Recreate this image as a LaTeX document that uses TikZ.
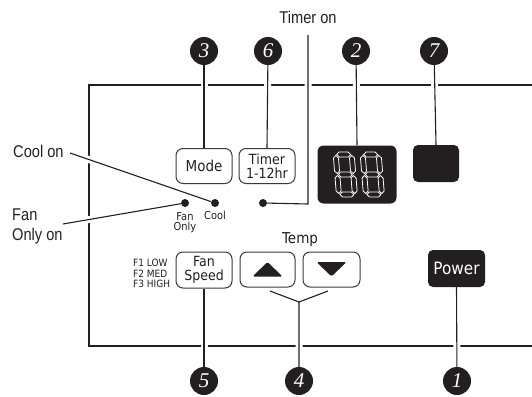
\documentclass[tikz,border=0pt]{standalone}
\usepackage{fontspec}
\newfontfamily\panelfont{DejaVu Sans}[FakeStretch=0.9]
\newfontfamily\calloutfont{Liberation Sans}[FakeStretch=0.86]
\newfontfamily\numfont{Liberation Serif}
\definecolor{Inkcol}{HTML}{231F20}
\definecolor{Btncol}{HTML}{3A3A3A}
\usetikzlibrary{calc, positioning}
\pgfdeclarelayer{back}
\pgfsetlayers{back,main}
\tikzset{
    btn/.style={draw=Btncol, line width=1pt, rounded corners=7pt, text=Inkcol,
        font=\panelfont\fontsize{14}{13.5}\selectfont, align=center, inner sep=0pt,
        minimum width=56pt, minimum height=35pt},
    blackbox/.style={fill=Inkcol, rounded corners=5pt, inner sep=0pt},
    numdot/.style={circle, fill=Inkcol, minimum size=28pt, inner sep=0pt, text=white,
        font=\numfont\itshape\fontsize{21}{21}\selectfont},
    led/.style={circle, fill=Inkcol, minimum size=8pt, inner sep=0pt},
    ledlabel/.style={text=Inkcol, font=\panelfont\fontsize{11}{10.5}\selectfont, align=center, inner sep=0pt},
    callout/.style={text=Inkcol, font=\calloutfont\fontsize{17}{20}\selectfont, inner sep=0pt, align=left},
    leader/.style={draw=Inkcol, line width=1.1pt, preaction={draw=white, line width=7pt}},
    segline/.style={draw=white, line width=0.8pt, fill=Inkcol, line join=miter}
}
% hollow seven segment digit, #1 = top left corner
\newcommand{\segdigit}[1]{%
    \begin{scope}[shift={#1}, xslant=-0.08]
        \foreach \yc in {2.5,22.5,42.5}
            \draw[segline] (3.5,\yc) -- (6,\yc-2.5) -- (15,\yc-2.5) -- (17.5,\yc) -- (15,\yc+2.5) -- (6,\yc+2.5) -- cycle;
        \foreach \xc/\ya/\yb in {2.5/3.5/21.5, 18.5/3.5/21.5, 2.5/23.5/41.5, 18.5/23.5/41.5}
            \draw[segline] (\xc,\ya) -- (\xc+2.5,\ya+2.5) -- (\xc+2.5,\yb-2.5) -- (\xc,\yb) -- (\xc-2.5,\yb-2.5) -- (\xc-2.5,\ya+2.5) -- cycle;
    \end{scope}}

\begin{document}
\begin{tikzpicture}[x=1pt, y=-1pt]
    \useasboundingbox (0,0) rectangle (532,396);

    % Buttons
    \node[btn, font=\panelfont\fontsize{15}{15}\selectfont] (mode) at (204,166) {Mode};
    \node[btn] (timer) at (267,166) {Timer\\1-12hr};
    \node[btn, minimum height=36pt] (fanspeed) at (204,270) {Fan\\Speed};
    \node[btn, minimum width=55pt] (tempup) at (267.5,269.5) {};
    \node[btn, minimum width=57pt] (tempdown) at (331.5,269.5) {};
    \fill[Inkcol, rounded corners=1.5pt] ([shift={(-15,7)}]tempup.center) -- ([shift={(15,7)}]tempup.center) -- ([shift={(0,-7.5)}]tempup.center) -- cycle;
    \fill[Inkcol, rounded corners=1.5pt] ([shift={(-15,-7.5)}]tempdown.center) -- ([shift={(15,-7.5)}]tempdown.center) -- ([shift={(0,7)}]tempdown.center) -- cycle;
    \node[text=Inkcol, font=\panelfont\fontsize{15}{15}\selectfont, inner sep=0pt, anchor=base] (templabel) at (300,243) {Temp};
    \node[blackbox, minimum width=57pt, minimum height=37pt, text=white,
        font=\panelfont\fontsize{17}{17}\selectfont] (power) at (456.5,268.5) {Power};
    \node[ledlabel, font=\panelfont\fontsize{10}{10.5}\selectfont, align=left, anchor=west] (fansteps) at (133,273.5) {F1 LOW\\F2 MED\\F3 HIGH};

    % Display and box
    \node[blackbox, rounded corners=6pt, minimum width=79pt, minimum height=58pt] (display) at (357,174.5) {};
    \segdigit{($(display.center)+(-24,-22.5)$)}
    \segdigit{($(display.center)+(3,-22.5)$)}
    \node[blackbox, minimum width=46pt, minimum height=37pt] (box7) at (436,163.5) {};

    % Indicator lights
    \node[led] (fanled) at (185,203) {};
    \node[led] (coolled) at (215,203) {};
    \node[led] (timerled) at (263,203) {};
    \node[ledlabel, below=5pt of fanled] (fanledtext) {Fan\\Only};
    \node[ledlabel, below=4pt of coolled] (coolledtext) {Cool};

    % Callouts
    \node[callout, anchor=base] (timeron) at (308,23.5) {Timer on};
    \node[callout, anchor=base west] (coolon) at (13,157) {Cool on};
    \node[callout, anchor=north west] (fanonly) at (12,209) {Fan\\Only on};

    % Numbers
    \node[numdot] (n3) at (204,51) {3};
    \node[numdot] (n6) at (268,51) {6};
    \node[numdot] (n2) at (356,51) {2};
    \node[numdot] (n7) at (434,51) {7};
    \node[numdot] (n5) at (204,381) {5};
    \node[numdot] (n4) at (299,381) {4};
    \node[numdot] (n1) at (457,381) {1};

    % Coordinates
    \coordinate (timertop) at (308,35);
    \coordinate (timerbend) at (308,204);
    \coordinate (coolstart) at (70,153);
    \coordinate (fanstart) at (63,224);
    \coordinate (vjoin) at (299,302);
    \coordinate (varmL) at (270,291);
    \coordinate (varmR) at (328,291);

    \begin{pgfonlayer}{back}
        % Panel frame
        \draw[Inkcol, line width=2.6pt] (540,85) -- (89,85) -- (89,346) -- (540,346);
        % Leaders
        \draw[leader] (n3) -- (mode.north);
        \draw[leader] (n6) -- (timer.north);
        \draw[leader] (n2) -- (display.north);
        \draw[leader] (n7) -- (box7.north);
        \draw[leader] (n5) -- (fanspeed.south);
        \draw[leader] (n1) -- (power.south);
        \draw[leader] (n4) -- (vjoin) (varmL) -- (vjoin) -- (varmR);
        \draw[leader] (timertop) -- (timerbend) -- (timerled);
        \draw[leader] (coolstart) -- (coolled);
        \draw[leader] (fanstart) -- (fanled);
    \end{pgfonlayer}
\end{tikzpicture}
\end{document}
